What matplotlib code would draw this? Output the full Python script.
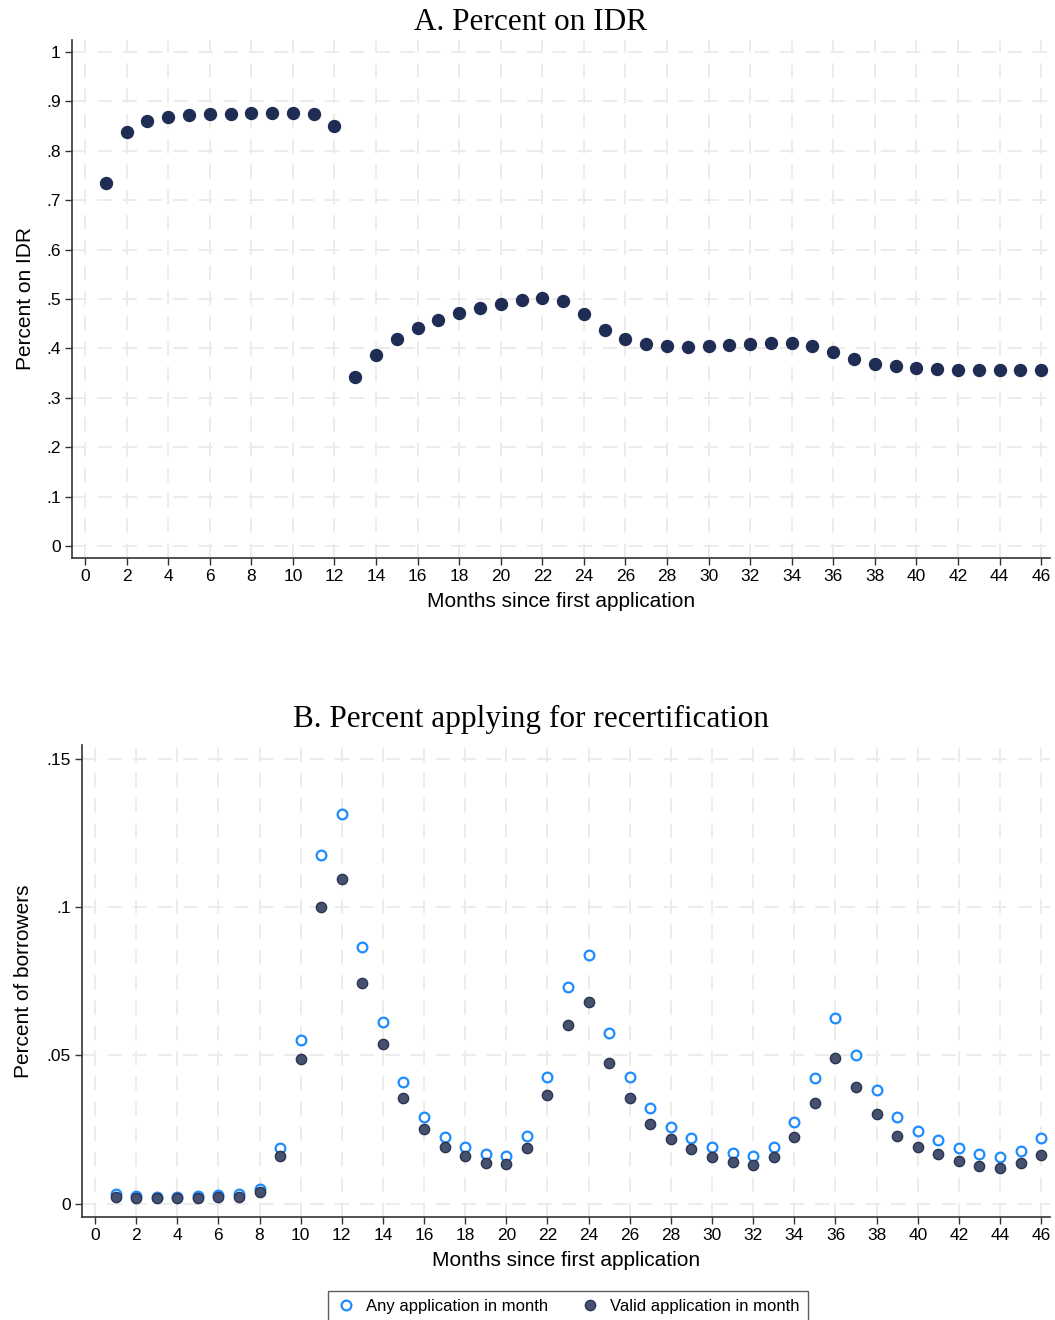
import numpy as np
import matplotlib
matplotlib.use("Agg")
import matplotlib.pyplot as plt
from matplotlib.ticker import FuncFormatter

months = np.arange(1, 47)

# panel A: share on IDR
pct_idr = [0.735, 0.838, 0.860, 0.868, 0.872, 0.874, 0.875, 0.876, 0.876, 0.877,
           0.875, 0.851, 0.342, 0.387, 0.419, 0.441, 0.457, 0.471, 0.482, 0.490,
           0.498, 0.502, 0.496, 0.470, 0.437, 0.420, 0.409, 0.404, 0.403, 0.404,
           0.406, 0.408, 0.410, 0.410, 0.405, 0.392, 0.378, 0.369, 0.364, 0.360,
           0.358, 0.357, 0.357, 0.357, 0.357, 0.357]

# panel B: applying for recertification
any_app = [0.0032, 0.0025, 0.0024, 0.0024, 0.0025, 0.0030, 0.0033, 0.0049, 0.0187, 0.0551,
           0.1175, 0.1316, 0.0867, 0.0612, 0.0411, 0.0293, 0.0224, 0.0192, 0.0166, 0.0162,
           0.0227, 0.0427, 0.0732, 0.0838, 0.0577, 0.0428, 0.0324, 0.0260, 0.0223, 0.0190,
           0.0171, 0.0162, 0.0190, 0.0276, 0.0425, 0.0626, 0.0501, 0.0383, 0.0293, 0.0245,
           0.0214, 0.0188, 0.0166, 0.0159, 0.0179, 0.0220]
valid_app = [0.0023, 0.0019, 0.0019, 0.0019, 0.0020, 0.0022, 0.0024, 0.0039, 0.0162, 0.0488,
             0.1000, 0.1095, 0.0746, 0.0538, 0.0357, 0.0251, 0.0190, 0.0160, 0.0137, 0.0134,
             0.0189, 0.0365, 0.0604, 0.0679, 0.0475, 0.0356, 0.0270, 0.0217, 0.0186, 0.0157,
             0.0140, 0.0132, 0.0156, 0.0225, 0.0338, 0.0493, 0.0394, 0.0301, 0.0230, 0.0190,
             0.0166, 0.0144, 0.0127, 0.0121, 0.0136, 0.0164]

xticks = np.arange(0, 47, 2)
yticks_a = np.round(np.arange(0, 1.01, 0.1), 1)
yticks_b = [0, 0.05, 0.1, 0.15]

plt.rcParams['font.family'] = ['Liberation Sans', 'DejaVu Sans']

def stata_fmt(v, pos):
    if abs(v) < 1e-9:
        return "0"
    s = ("%g" % round(v, 3))
    if s.startswith("0."):
        s = s[1:]
    return s

def style_axes(ax):
    for side in ['top', 'right']:
        ax.spines[side].set_visible(False)
    for side in ['left', 'bottom']:
        ax.spines[side].set_color('#333333')
        ax.spines[side].set_linewidth(1.2)
    ax.tick_params(axis='both', direction='out', length=5, width=1, color='#333333',
                   labelsize=12.5, pad=3)
    ax.grid(True, color='#ebebeb', linestyle=(0, (8, 6)), linewidth=1.3)
    ax.set_axisbelow(True)
    ax.set_xticks(xticks)
    ax.set_xlim(-0.63, 46.43)
    ax.yaxis.set_major_formatter(FuncFormatter(stata_fmt))
    ax.set_xlabel("Months since first application", fontsize=15, labelpad=6)

fig = plt.figure(figsize=(10.55, 13.2), dpi=100)

ax1 = fig.add_axes([0.0682, 0.5773, 0.9271, 0.3924])
ax1.plot(months, pct_idr, ls='none', marker='o', ms=8.6, color='#1f2d55', mec='#1f2d55')
style_axes(ax1)
ax1.set_yticks(yticks_a)
ax1.set_ylim(-0.024, 1.024)
ax1.set_ylabel("Percent on IDR", fontsize=15, labelpad=8)
fig.text(0.503, 0.983, "A. Percent on IDR", ha='center', va='center',
         fontsize=22.5, family='Liberation Serif')

ax2 = fig.add_axes([0.0777, 0.078, 0.9176, 0.3576])
ax2.plot(months, any_app, ls='none', marker='o', ms=7, mfc='white', mec='#1e8cff',
         mew=1.6, label='Any application in month')
ax2.plot(months, valid_app, ls='none', marker='o', ms=7.4, color='#46506f', mec='#2b3452',
         mew=1.0, label='Valid application in month')
style_axes(ax2)
ax2.set_yticks(yticks_b)
ax2.set_ylim(-0.0045, 0.1547)
ax2.set_ylabel("Percent of borrowers", fontsize=15, labelpad=10)
fig.text(0.503, 0.455, "B. Percent applying for recertification", ha='center', va='center',
         fontsize=22.5, family='Liberation Serif')

leg = fig.legend(*ax2.get_legend_handles_labels(), loc='lower center', ncol=2,
                 bbox_to_anchor=(0.538, -0.008), fontsize=12, frameon=True,
                 fancybox=False, edgecolor='#333333', columnspacing=1.9,
                 handletextpad=0.6, borderpad=0.5, handlelength=1.2)
leg.get_frame().set_linewidth(1.0)

fig.savefig("out.png", dpi=100)
